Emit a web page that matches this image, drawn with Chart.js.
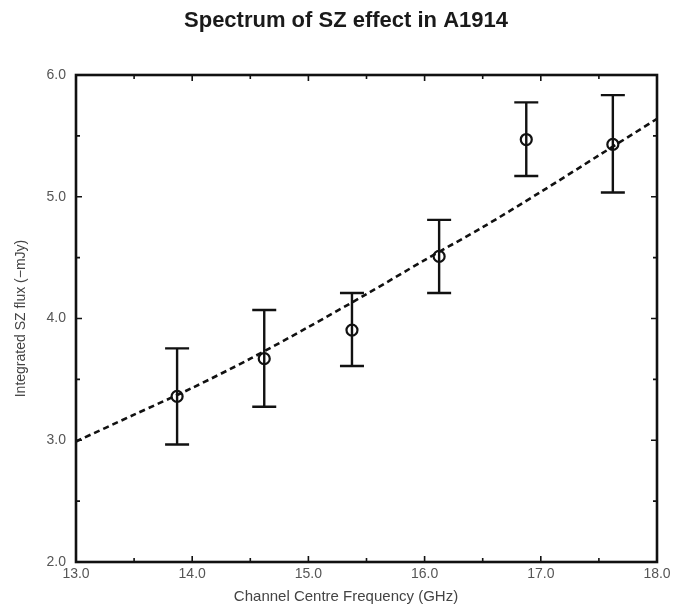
<!DOCTYPE html>
<html>
<head>
<meta charset="utf-8">
<script src="https://cdn.jsdelivr.net/npm/chart.js@4"></script>
<style>
  html, body { margin: 0; padding: 0; background: #fff; }
  #wrap { width: 688px; height: 612px; }
</style>
</head>
<body>
<div id="wrap"><canvas id="szChart" width="688" height="612"></canvas></div>
<script>
// Spectrum of SZ effect in A1914 - measured channel fluxes with 1-sigma bars and fitted curve

var freq = [13.87, 14.62, 15.375, 16.125, 16.875, 17.62];
var flux = [3.36, 3.67, 3.905, 4.51, 5.47, 5.43];
var fluxHigh = [3.755, 4.07, 4.21, 4.81, 5.775, 5.835];
var fluxLow = [2.965, 3.275, 3.61, 4.21, 5.17, 5.035];

var fitFreq = [13.0, 13.5, 14.0, 14.5, 15.0, 15.5, 16.0, 16.5, 17.0, 17.5, 18.0];
var fitFlux = [2.99, 3.21, 3.43, 3.67, 3.93, 4.20, 4.48, 4.75, 5.04, 5.34, 5.64];

var xTicks = [13.0, 14.0, 15.0, 16.0, 17.0, 18.0];
var yTicks = [2.0, 3.0, 4.0, 5.0, 6.0];

var points = freq.map(function (f, i) { return { x: f, y: flux[i] }; });
var fitLine = fitFreq.map(function (f, i) { return { x: f, y: fitFlux[i] }; });

var FONT = 'Liberation Sans, Arial, Helvetica, sans-serif';

// error bars with caps
var errorBars = {
    id: 'errorBars',
    afterDatasetsDraw: function (chart) {
        var c = chart.ctx, xs = chart.scales.x, ys = chart.scales.y;
        c.save();
        c.strokeStyle = '#111';
        c.lineWidth = 2.4;
        freq.forEach(function (f, i) {
            var px = xs.getPixelForValue(f);
            var top = ys.getPixelForValue(fluxHigh[i]);
            var bot = ys.getPixelForValue(fluxLow[i]);
            c.beginPath();
            c.moveTo(px, top); c.lineTo(px, bot);
            c.moveTo(px - 12, top); c.lineTo(px + 12, top);
            c.moveTo(px - 12, bot); c.lineTo(px + 12, bot);
            c.stroke();
        });
        c.restore();
    }
};

// frame and inward ticks on all four sides
var frame = {
    id: 'frame',
    afterDraw: function (chart) {
        var c = chart.ctx, a = chart.chartArea, xs = chart.scales.x, ys = chart.scales.y;
        c.save();
        c.strokeStyle = '#111';
        c.lineWidth = 2.6;
        c.strokeRect(a.left, a.top, a.right - a.left, a.bottom - a.top);
        c.lineWidth = 1.6;
        c.beginPath();
        for (var v = 13.0; v <= 18.0001; v += 0.5) {
            var px = xs.getPixelForValue(v);
            var len = (Math.abs(v - Math.round(v)) < 0.01) ? 6 : 4;
            c.moveTo(px, a.bottom); c.lineTo(px, a.bottom - len);
            c.moveTo(px, a.top); c.lineTo(px, a.top + len);
        }
        for (var w = 2.0; w <= 6.0001; w += 0.5) {
            var py = ys.getPixelForValue(w);
            var l2 = (Math.abs(w - Math.round(w)) < 0.01) ? 6 : 4;
            c.moveTo(a.left, py); c.lineTo(a.left + l2, py);
            c.moveTo(a.right, py); c.lineTo(a.right - l2, py);
        }
        c.stroke();
        c.restore();
    }
};

var ctx = document.getElementById('szChart');

var szChart = new Chart(ctx, {
    type: 'scatter',
    data: {
        datasets: [{
            label: 'Fit',
            data: fitLine,
            showLine: true,
            borderColor: '#111',
            borderWidth: 2.6,
            borderDash: [6, 4],
            pointRadius: 0,
            fill: false,
            tension: 0.3
        }, {
            label: 'Measured',
            data: points,
            pointRadius: 5.5,
            pointBorderWidth: 2.2,
            pointBorderColor: '#111',
            pointBackgroundColor: 'rgba(255,255,255,0)'
        }]
    },
    plugins: [errorBars, frame],
    options: {
        responsive: false,
        animation: false,
        layout: { padding: { left: 4, right: 0, top: 0, bottom: 0 } },
        plugins: {
            legend: { display: false },
            tooltip: { enabled: false },
            title: {
                display: true,
                text: 'Spectrum of SZ effect in A1914',
                color: '#1a1a1a',
                font: { family: FONT, size: 22, weight: 'bold' },
                padding: { top: 8, bottom: 40.6 }
            },
            subtitle: {
                display: true,
                position: 'bottom',
                text: 'Channel Centre Frequency (GHz)',
                color: '#444',
                font: { family: FONT, size: 15 },
                padding: { top: 0, bottom: 6 }
            }
        },
        scales: {
            x: {
                type: 'linear',
                min: 13, max: 18,
                afterBuildTicks: function (s) { s.ticks = xTicks.map(function (v) { return { value: v }; }); },
                afterFit: function (s) { s.height = 26; },
                grid: { display: false, drawTicks: false },
                border: { display: false },
                ticks: {
                    color: '#555',
                    padding: 4,
                    font: { family: FONT, size: 14 },
                    callback: function (v) { return v.toFixed(1); }
                }
            },
            y: {
                type: 'linear',
                min: 2, max: 6,
                afterBuildTicks: function (s) { s.ticks = yTicks.map(function (v) { return { value: v }; }); },
                afterFit: function (s) { s.width = 72; },
                grid: { display: false, drawTicks: false },
                border: { display: false },
                ticks: {
                    color: '#555',
                    padding: 10,
                    font: { family: FONT, size: 14 },
                    callback: function (v) { return v.toFixed(1); }
                },
                title: {
                    display: true,
                    text: 'Integrated SZ flux (−mJy)',
                    color: '#444',
                    padding: { top: 9, bottom: 0 },
                    font: { family: FONT, size: 14 }
                }
            },
            yRight: {
                type: 'linear',
                position: 'right',
                min: 2, max: 6,
                afterFit: function (s) { s.width = 31; },
                grid: { display: false, drawTicks: false },
                border: { display: false },
                ticks: { display: false }
            }
        }
    }
});
</script>
</body>
</html>
